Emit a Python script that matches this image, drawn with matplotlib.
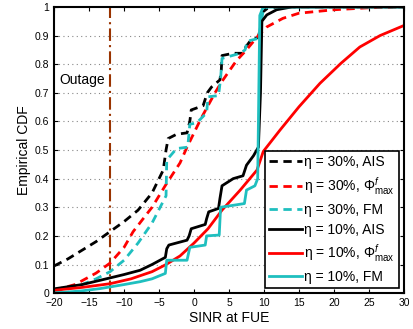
import numpy as np
import matplotlib.pyplot as plt

plt.rcParams['font.family'] = ['Liberation Sans', 'DejaVu Sans']
plt.rcParams['mathtext.fontset'] = 'custom'
plt.rcParams['mathtext.rm'] = 'Liberation Sans'
plt.rcParams['mathtext.it'] = 'Liberation Sans:italic'

# eta = 30%, AIS
ais30_x = [-20, -18, -16, -14, -12, -10, -8, -6, -4.4, -4.0, -3.7, -2.5, -1.0, -0.6, -0.4,
           1.3, 1.9, 2.5, 3.7, 3.9, 4.0, 5.6, 7.0, 7.4, 8.0, 9.2, 9.5, 9.7, 10.5, 12, 15, 30]
ais30_y = [0.095, 0.12, 0.15, 0.18, 0.215, 0.25, 0.29, 0.35, 0.43, 0.50, 0.54, 0.555, 0.56, 0.60, 0.64,
           0.655, 0.70, 0.72, 0.745, 0.78, 0.83, 0.838, 0.838, 0.86, 0.88, 0.895, 0.93, 0.98, 0.995, 1.0, 1.0, 1.0]

# eta = 30%, Phi max
phi30_x = [-20, -17, -14, -12, -10, -8.7, -6, -4, -2, -1, 0, 1, 2, 3, 4, 5, 6, 7.5, 9.2, 10.4,
           12.7, 15, 20, 25, 30]
phi30_y = [0.01, 0.03, 0.07, 0.105, 0.16, 0.215, 0.30, 0.38, 0.455, 0.51, 0.56, 0.61, 0.655, 0.70,
           0.74, 0.775, 0.81, 0.85, 0.90, 0.93, 0.96, 0.978, 0.99, 0.997, 1.0]

# eta = 30%, FM
fm30_x = [-20, -18, -16, -14, -12, -10, -8, -6, -4.0, -3.9, -2.5, -0.9, -0.6, 0.4, 1.8, 2.0,
          3.5, 3.8, 4.0, 6.6, 7.3, 7.6, 9.2, 9.5, 9.9, 10.5, 30]
fm30_y = [0.005, 0.015, 0.03, 0.05, 0.075, 0.115, 0.175, 0.245, 0.34, 0.465, 0.505, 0.51, 0.59, 0.595,
          0.63, 0.686, 0.69, 0.75, 0.82, 0.838, 0.85, 0.88, 0.89, 0.93, 0.99, 1.0, 1.0]

# eta = 10%, AIS
ais10_x = [-20, -16, -13.4, -10, -7.7, -6, -4.1, -3.9, -3.6, -1.0, -0.7, -0.4, 1.6, 1.8, 2.1,
           3.5, 3.7, 4.0, 5.6, 7.0, 7.5, 8.5, 9.2, 9.5, 9.7, 10.4, 11.8, 14, 30]
ais10_y = [0.015, 0.03, 0.045, 0.065, 0.08, 0.10, 0.125, 0.155, 0.168, 0.185, 0.20, 0.225, 0.24, 0.26,
           0.284, 0.296, 0.33, 0.375, 0.40, 0.41, 0.447, 0.48, 0.51, 0.70, 0.95, 0.972, 0.99, 1.0, 1.0]

# eta = 10%, Phi max
phi10_x = [-20, -16, -12, -9, -6, -4, -2, 0, 2, 4, 6.6, 9, 9.9, 12.3, 15, 18, 21, 23.7, 26.6, 30]
phi10_y = [0.01, 0.02, 0.033, 0.05, 0.075, 0.10, 0.13, 0.175, 0.225, 0.29, 0.36, 0.43, 0.495, 0.57,
           0.651, 0.733, 0.803, 0.86, 0.90, 0.935]

# eta = 10%, FM
fm10_x = [-20, -16, -13.4, -10, -7.7, -6, -4.1, -3.9, -1.0, -0.6, 1.6, 1.8, 3.6, 3.8, 7.2, 7.5,
          8.7, 9.1, 9.4, 9.8, 10.2, 30]
fm10_y = [0.0, 0.008, 0.016, 0.03, 0.04, 0.05, 0.069, 0.115, 0.115, 0.16, 0.168, 0.20, 0.203, 0.30,
          0.313, 0.36, 0.375, 0.40, 0.97, 0.995, 1.0, 1.0]

outage_x = -12

cyan = '#1fbfbf'

fig = plt.figure(figsize=(4.13, 3.29), dpi=100)
ax = fig.add_axes([0.131, 0.109, 0.847, 0.870])

for yv in np.arange(0.1, 1.0, 0.1):
    ax.axhline(yv, color='#888888', lw=0.8, ls=(0, (1, 3)), zorder=0)

ax.axvline(outage_x, color='#993300', lw=1.5, ls=(0, (6, 2, 1, 2)), zorder=1)
ax.text(-19.2, 0.745, 'Outage', fontsize=10, va='center', ha='left')

lw = 2
ax.plot(ais30_x, ais30_y, color='black', lw=lw, ls=(0, (3, 2)), label='η = 30%, AIS')
ax.plot(phi30_x, phi30_y, color='red', lw=lw, ls=(0, (3, 2)), label=r'η = 30%, $\Phi^{f}_{\mathrm{max}}$')
ax.plot(fm30_x, fm30_y, color=cyan, lw=lw, ls=(0, (3, 2)), label='η = 30%, FM')
ax.plot(ais10_x, ais10_y, color='black', lw=lw, label='η = 10%, AIS')
ax.plot(phi10_x, phi10_y, color='red', lw=lw, label=r'η = 10%, $\Phi^{f}_{\mathrm{max}}$')
ax.plot(fm10_x, fm10_y, color=cyan, lw=lw, label='η = 10%, FM')

ax.set_xlim(-20, 30)
ax.set_ylim(0, 1)
ax.set_xticks(np.arange(-20, 31, 5))
ax.set_yticks(np.arange(0, 1.01, 0.1))
ax.set_yticklabels(['0', '0.1', '0.2', '0.3', '0.4', '0.5', '0.6', '0.7', '0.8', '0.9', '1'])
ax.tick_params(direction='in', top=True, right=True, labelsize=7.5, length=3, width=0.8)
for s in ax.spines.values():
    s.set_linewidth(1.5)

ax.set_xlabel('SINR at FUE', fontsize=10, labelpad=2)
ax.set_ylabel('Empirical CDF', fontsize=10, labelpad=3)

leg = ax.legend(loc='lower right', fontsize=10, handlelength=2.4, handletextpad=0.15,
                labelspacing=0.42, borderaxespad=0.35, fancybox=False, framealpha=1,
                edgecolor='black', borderpad=0.3)
leg.get_frame().set_linewidth(1.2)

fig.savefig('out.png', dpi=100)
